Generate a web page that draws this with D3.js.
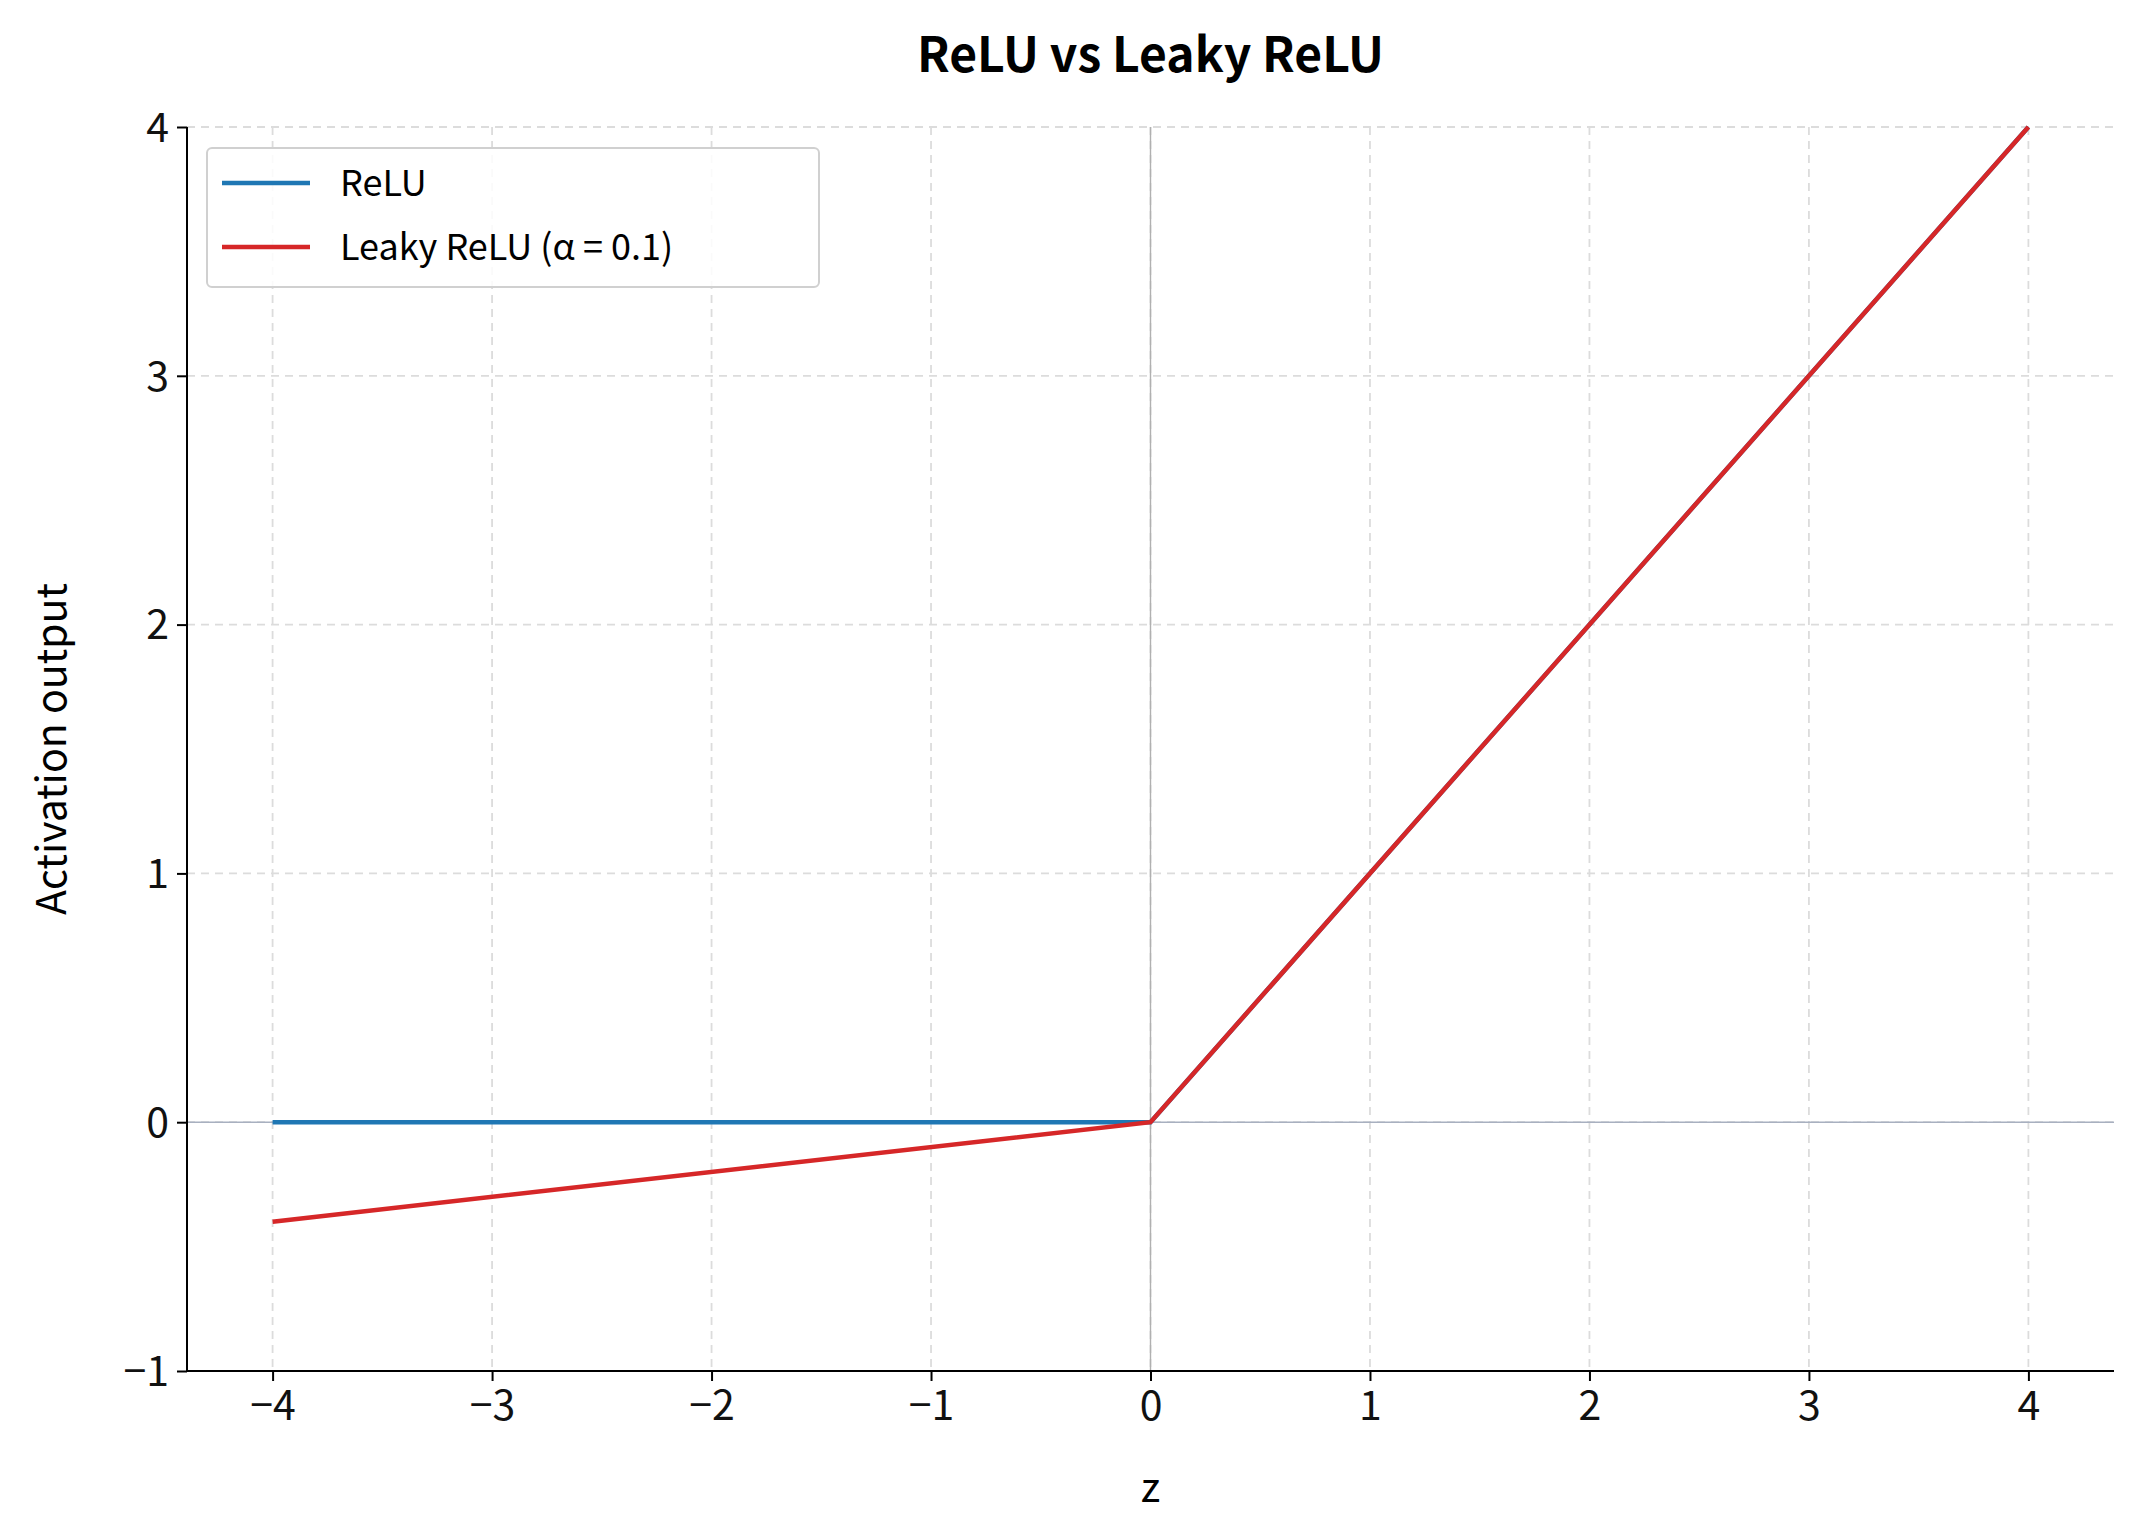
<!DOCTYPE html>
<html><head><meta charset="utf-8">
<script src="https://cdn.jsdelivr.net/npm/d3@7"></script>
<style>body{margin:0;background:#fff}text{font-family:"Noto Sans CJK JP","Noto Sans",sans-serif}</style>
</head><body><svg id="c" width="2134" height="1534"></svg>
<script>
const zValues = [-4, 0, 4];
const reluValues = [0, 0, 4];
const leakyValues = [-0.4, 0, 4];
const xTicks = [-4,-3,-2,-1,0,1,2,3,4];
const yTicks = [-1,0,1,2,3,4];
const seriesNames = ["ReLU", "Leaky ReLU (α = 0.1)"];
const colors = ["#1f77b4", "#d62728"];

const svg = d3.select("#c");
const L=187,R=2114,T=127,B=1371;
const x = d3.scaleLinear().domain([-4.39,4.39]).range([L,R]);
const y = d3.scaleLinear().domain([-1,4]).range([B,T]);
const fmt = d => d<0 ? "\u2212"+Math.abs(d) : String(d);

const g = svg.append("g");
g.selectAll(".gx").data(xTicks).join("line").attr("x1",d=>x(d)).attr("x2",d=>x(d)).attr("y1",T).attr("y2",B)
 .attr("stroke","#dcdcdc").attr("stroke-width",1.8).attr("stroke-dasharray","8,6");
g.selectAll(".gy").data(yTicks).join("line").attr("y1",d=>y(d)).attr("y2",d=>y(d)).attr("x1",L).attr("x2",R)
 .attr("stroke","#dcdcdc").attr("stroke-width",1.8).attr("stroke-dasharray","8,6");
g.append("line").attr("x1",x(0)).attr("x2",x(0)).attr("y1",T).attr("y2",B).attr("stroke","#b0b0b0").attr("stroke-width",1.4);
g.append("line").attr("x1",L).attr("x2",R).attr("y1",y(0)).attr("y2",y(0)).attr("stroke","#a8b0c0").attr("stroke-width",1.4);

const line = d3.line().x(d=>x(d[0])).y(d=>y(d[1]));
[reluValues, leakyValues].forEach((vals,i)=>{
  svg.append("path").datum(zValues.map((z,j)=>[z,vals[j]])).attr("d",line)
   .attr("fill","none").attr("stroke",colors[i]).attr("stroke-width",4.5);
});

const xa = svg.append("g").attr("transform",`translate(0,${B})`).call(d3.axisBottom(x).tickValues(xTicks).tickFormat(fmt).tickSize(10).tickPadding(10));
const ya = svg.append("g").attr("transform",`translate(${L},0)`).call(d3.axisLeft(y).tickValues(yTicks).tickFormat(fmt).tickSize(10).tickPadding(8));
[xa,ya].forEach(a=>{a.selectAll("text").attr("font-size",41).attr("fill","#111").style("font-family",'"Noto Sans CJK JP"');
  a.selectAll("line,path").attr("stroke","#000").attr("stroke-width",2);});
ya.selectAll("text").attr("dy","0.35em");
ya.select(".domain").attr("d",`M0,${T}V${B}`);
xa.select(".domain").attr("d",`M${L},0H${R}`);

svg.append("text").attr("x",x(0)).attr("y",72).attr("text-anchor","middle").attr("font-size",48).attr("font-weight","bold").text("ReLU vs Leaky ReLU");
svg.append("text").attr("x",x(0)).attr("y",1502).attr("text-anchor","middle").attr("font-size",41).text("z");
svg.append("text").attr("transform",`translate(66,${y(1.5)}) rotate(-90)`).attr("text-anchor","middle").attr("font-size",41).text("Activation output");

const lg = svg.append("g");
lg.append("rect").attr("x",207).attr("y",148).attr("width",612).attr("height",139).attr("rx",5)
 .attr("fill","#fff").attr("fill-opacity",0.85).attr("stroke","#d0d0d0").attr("stroke-width",2);
seriesNames.forEach((n,i)=>{
  const yy = 183 + i*64;
  lg.append("line").attr("x1",222).attr("x2",310).attr("y1",yy).attr("y2",yy).attr("stroke",colors[i]).attr("stroke-width",4.5);
  lg.append("text").attr("x",340).attr("y",yy+13).attr("font-size",36).text(n);
});
</script></body></html>
